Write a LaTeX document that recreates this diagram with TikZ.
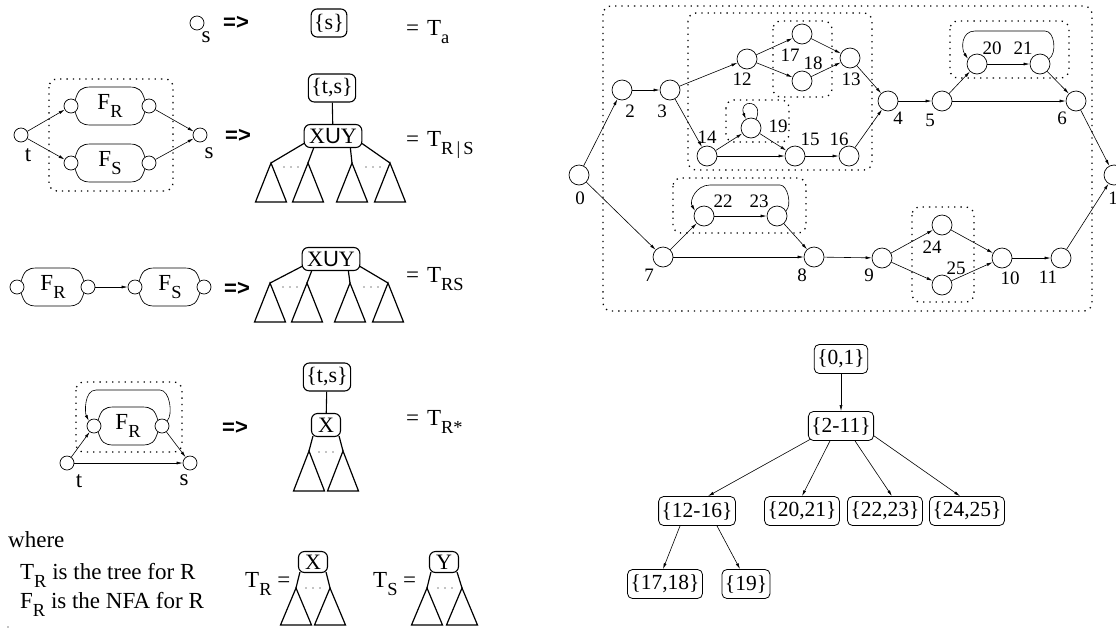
\documentclass[tikz,border=0pt]{standalone}
\usepackage{fontspec}
\setmainfont{Liberation Serif}
\setsansfont{Liberation Sans}
\usetikzlibrary{arrows.meta,calc}
\newcommand\lo[1]{\raisebox{-0.38em}{\scalebox{0.8}{#1}}}
\newcommand\blob[2]{%
 \draw[line width=0.7pt] (#1.55) .. controls +(3,-10) and +(-10,0) .. ($(#1)+(20,-19)$) -- ($(#2)+(-20,-19)$) .. controls +(10,0) and +(-3,-10) .. (#2.125);
 \draw[line width=0.7pt] (#1.-55) .. controls +(3,10) and +(-10,0) .. ($(#1)+(20,19)$) -- ($(#2)+(-20,19)$) .. controls +(10,0) and +(-3,10) .. (#2.-125);}
\newcommand\tria[3]{\draw[tri] (#1,#2) -- ({#1-15.5},{#2+#3}) -- ({#1+15.5},{#2+#3}) -- cycle;}
\newcommand\dts[2]{\foreach \k in {0,1,2}{\fill ({#1+\k*7},#2) circle (0.55);}}
\begin{document}
\begin{tikzpicture}[x=1pt,y=-1pt,
  every node/.style={inner sep=0pt},
  big/.style={font=\fontsize{23}{27}\selectfont},
  sm/.style={font=\fontsize{19}{22}\selectfont},
  imp/.style={font=\sffamily\bfseries\fontsize{22}{26}\selectfont},
  lc/.style={draw,circle,minimum size=14pt,line width=0.7pt},
  gc/.style={draw,circle,minimum size=20pt,line width=0.7pt},
  arr/.style={-{Latex[length=6pt,width=3pt]},line width=0.6pt},
  dbox/.style={line width=1.3pt,dash pattern=on 1.3pt off 5pt,rounded corners=8pt},
  tbox/.style={draw,rounded corners=6pt,line width=1.1pt,font=\fontsize{22}{26}\selectfont,inner xsep=3pt,minimum height=28pt},
  xbox/.style={draw,rounded corners=6pt,line width=1.1pt,font=\fontsize{22}{26}\selectfont,inner xsep=4pt,minimum height=23pt},
  tri/.style={line width=1.2pt},
  rbox/.style={draw,rounded corners=5pt,line width=0.8pt,font=\fontsize{21.5}{26}\selectfont,inner xsep=3pt,minimum height=29pt},
]
\useasboundingbox (0,0) rectangle (1116,630);

% ---------- row 1
\node[lc] (s1) at (197,23) {};
\node[big] (s1l) at (206,37) {s};
\node[imp] (imp1) at (236,23) {=>};
\node[tbox] (ts1) at (329,23) {\{s\}};
\node[big,anchor=base west] (eq1) at (406,35) {=\hspace{8pt}T\lo{a}};

% ---------- row 2
\draw[dbox] (49,79) rectangle (173,191);
\node[lc] (t2) at (21,135) {};
\node[lc] (r2a) at (71,106) {};
\node[lc] (r2b) at (149,106) {};
\node[lc] (s2a) at (71,163) {};
\node[lc] (s2b) at (149,163) {};
\node[lc] (s2) at (200,135) {};
\blob{r2a}{r2b}
\blob{s2a}{s2b}
\node[big] (fr2) at (110,106) {F\lo{R}};
\node[big] (fs2) at (110,163) {F\lo{S}};
\node[big] (t2l) at (28,155) {t};
\node[big] (s2l) at (209,153) {s};
\draw[arr] (t2) -- (r2a);
\draw[arr] (t2) -- (s2a);
\draw[arr] (r2b) -- (s2);
\draw[arr] (s2b) -- (s2);
\node[imp] (imp2) at (238,136) {=>};
\node[tbox] (ts2) at (332,88) {\{t,s\}};
\node[xbox,inner xsep=5pt] (xuy2) at (333,136) {X{\sffamily U}Y};
\draw[line width=1.1pt] (ts2) -- (xuy2);
\coordinate (a21) at (271,163);
\coordinate (a22) at (308,163);
\coordinate (a23) at (352,163);
\coordinate (a24) at (390,163);
\draw[tri] ($(xuy2.south west)+(1,-5)$) -- (a21);
\draw[tri] ($(xuy2.south west)+(10,0)$) -- (a22);
\draw[tri] ($(xuy2.south east)+(-12,0)$) -- (a23);
\draw[tri] ($(xuy2.south east)+(-1,-5)$) -- (a24);
\tria{271}{163}{39}\tria{308}{163}{39}\tria{352}{163}{39}\tria{390}{163}{39}
\dts{284}{167}\dts{366}{167}
\node[big,anchor=base west] (eq2) at (406,146) {=\hspace{8pt}T\lo{R\,|\,S}};

% ---------- row 3
\node[lc] (a3) at (17,287) {};
\node[lc] (b3) at (88,287) {};
\node[lc] (c3) at (135,287) {};
\node[lc] (d3) at (204,287) {};
\blob{a3}{b3}
\blob{c3}{d3}
\node[big] (fr3) at (53,287) {F\lo{R}};
\node[big] (fs3) at (170,287) {F\lo{S}};
\draw[arr] (b3) -- (c3);
\node[imp] (imp3) at (237,289) {=>};
\node[xbox,inner xsep=5pt] (xuy3) at (331,259) {X{\sffamily U}Y};
\coordinate (a31) at (270,283);
\coordinate (a32) at (307,283);
\coordinate (a33) at (350,283);
\coordinate (a34) at (388,283);
\draw[tri] ($(xuy3.south west)+(1,-5)$) -- (a31);
\draw[tri] ($(xuy3.south west)+(10,0)$) -- (a32);
\draw[tri] ($(xuy3.south east)+(-12,0)$) -- (a33);
\draw[tri] ($(xuy3.south east)+(-1,-5)$) -- (a34);
\tria{270}{283}{39}\tria{307}{283}{39}\tria{350}{283}{39}\tria{388}{283}{39}
\dts{283}{287}\dts{364}{287}
\node[big,anchor=base west] (eq3) at (406,282) {=\hspace{8pt}T\lo{RS}};

% ---------- row 4
\draw[dbox] (76,382) rectangle (182,452);
\node[lc] (l4) at (94,426) {};
\node[lc] (r4) at (162,426) {};
\node[lc] (t4) at (67,463) {};
\node[lc] (s4) at (190,463) {};
\blob{l4}{r4}
\node[big] (fr4) at (128,426) {F\lo{R}};
\node[big] (t4l) at (79,481) {t};
\node[big] (s4l) at (184,480) {s};
\draw[arr] (t4) -- (l4);
\draw[arr] (r4) -- (s4);
\draw[arr] (t4) -- (s4);
\draw[arr] (r4.45) .. controls +(6,-6) and +(10,0) .. (160,390) -- (96,390) .. controls +(-12,0) and +(-4,-8) .. (l4.135);
\node[imp] (imp4) at (235,428) {=>};
\node[tbox] (ts4) at (327,377) {\{t,s\}};
\node[xbox,minimum width=29pt] (x4) at (326,425) {X};
\draw[line width=1.1pt] (ts4) -- (x4);
\coordinate (a41) at (309,451);
\coordinate (a42) at (343,451);
\draw[tri] ($(x4.south west)+(2,-1)$) -- (a41);
\draw[tri] ($(x4.south east)+(-2,-1)$) -- (a42);
\tria{309}{451}{40}\tria{343}{451}{40}
\dts{319}{452}
\node[big,anchor=base west] (eq4) at (406,425) {=\hspace{8pt}T\lo{R*}};

% ---------- where
\node[big,anchor=base west] (wh) at (8,547) {where};
\node[big,anchor=base west] (wh1) at (20,579) {T\lo{R} is the tree for R};
\node[big,anchor=base west] (wh2) at (20,608) {F\lo{R} is the NFA for R};
\fill (8,627) circle (0.6);
\node[big,anchor=base west] (trl) at (245,587) {T\lo{R} =};
\node[xbox,minimum width=29pt,minimum height=21pt] (xr) at (313,562) {X};
\coordinate (ar1) at (296,588);
\coordinate (ar2) at (330,588);
\draw[tri] ($(xr.south west)+(2,-1)$) -- (ar1);
\draw[tri] ($(xr.south east)+(-2,-1)$) -- (ar2);
\tria{296}{588}{37}\tria{330}{588}{37}
\dts{306}{588}
\node[big,anchor=base west] (tsl) at (373,587) {T\lo{S} =};
\node[xbox,minimum width=29pt,minimum height=21pt] (ys) at (444,562) {Y};
\coordinate (as1) at (427,588);
\coordinate (as2) at (462,588);
\draw[tri] ($(ys.south west)+(2,-1)$) -- (as1);
\draw[tri] ($(ys.south east)+(-2,-1)$) -- (as2);
\tria{427}{588}{37}\tria{462}{588}{37}
\dts{438}{588}

% ---------- right graph
\draw[dbox] (603,6) rectangle (1092,311);
\draw[dbox] (688,13) rectangle (872,170);
\draw[dbox] (773,21) rectangle (832,97);
\draw[dbox] (726,100) rectangle (789,142);
\draw[dbox] (950,21) rectangle (1069,78);
\draw[dbox] (673,178) rectangle (806,233);
\draw[dbox] (912,207) rectangle (974,302);
\foreach \n/\x/\y in {0/579/175, 2/622/90, 3/670/90, 12/747/59, 17/802/34, 18/802/81, 13/850/58, 14/707/156, 19/751/128, 15/795/156, 16/849/156, 4/888/101, 5/942/101, 20/977/64, 21/1040/64, 6/1076/101, 1/1114/175, 22/704/216, 23/777/216, 7/663/257, 8/814/257, 9/882/258, 24/942/225, 25/942/285, 10/1002/258, 11/1061/258}
  \node[gc] (n\n) at (\x,\y) {};
\foreach \n/\x/\y in {0/580/198, 2/630/111, 3/662/111, 12/742/79, 17/790/55, 18/813/63, 13/851/79, 14/707/137, 19/778/126, 15/810/139, 16/839/139, 4/898/118, 5/930/120, 20/992/48, 21/1023/48, 6/1062/118, 1/1113/198, 22/723/201, 23/759/201, 7/649/275, 8/802/275, 9/869/275, 24/932/247, 25/956/268, 10/1010/278, 11/1048/277}
  \node[sm] (l\n) at (\x,\y) {\n};
\foreach \a/\b in {0/2,2/3,3/12,3/14,12/17,12/18,17/13,18/13,14/19,14/15,19/15,15/16,13/4,16/4,4/5,5/20,5/6,20/21,21/6,6/1,0/7,7/22,7/8,22/23,23/8,8/9,9/24,9/25,24/10,25/10,10/11,11/1}
  \draw[arr] (n\a) -- (n\b);
\draw[arr] (n19.60) .. controls +(8,-20) and +(-8,-20) .. (n19.120);
\draw[arr] (n21.30) .. controls +(8,-5) and +(10,0) .. (1045,31) -- (975,31) .. controls +(-14,0) and +(-7,-10) .. (n20.150);
\draw[arr] (n23.30) .. controls +(6,-5) and +(8,0) .. (780,185) -- (710,185) .. controls +(-14,0) and +(-6,-10) .. (n22.150);

% ---------- right tree
\node[rbox] (r01) at (841,359) {\{0,1\}};
\node[rbox] (r211) at (841,426) {\{2-11\}};
\node[rbox] (r1216) at (697,511) {\{12-16\}};
\node[rbox] (r2021) at (802,511) {\{20,21\}};
\node[rbox] (r2223) at (885,511) {\{22,23\}};
\node[rbox] (r2425) at (967,511) {\{24,25\}};
\node[rbox] (r1718) at (665,584) {\{17,18\}};
\node[rbox] (r19) at (746,584) {\{19\}};
\draw[arr] (r01) -- (r211);
\draw[arr] ($(r211.south west)+(3,-2)$) -- ($(r1216.north)+(11,0)$);
\draw[arr] ($(r211.south)+(-11,0)$) -- (r2021.north);
\draw[arr] ($(r211.south)+(14,0)$) -- ($(r2223.north)+(7,0)$);
\draw[arr] ($(r211.south east)+(0,-5)$) -- ($(r2425.north)+(-7,0)$);
\draw[arr] ($(r1216.south)+(-17,0)$) -- ($(r1718.north)+(-2,0)$);
\draw[arr] ($(r1216.south)+(20,0)$) -- ($(r19.north)+(-6,0)$);
\end{tikzpicture}
\end{document}
